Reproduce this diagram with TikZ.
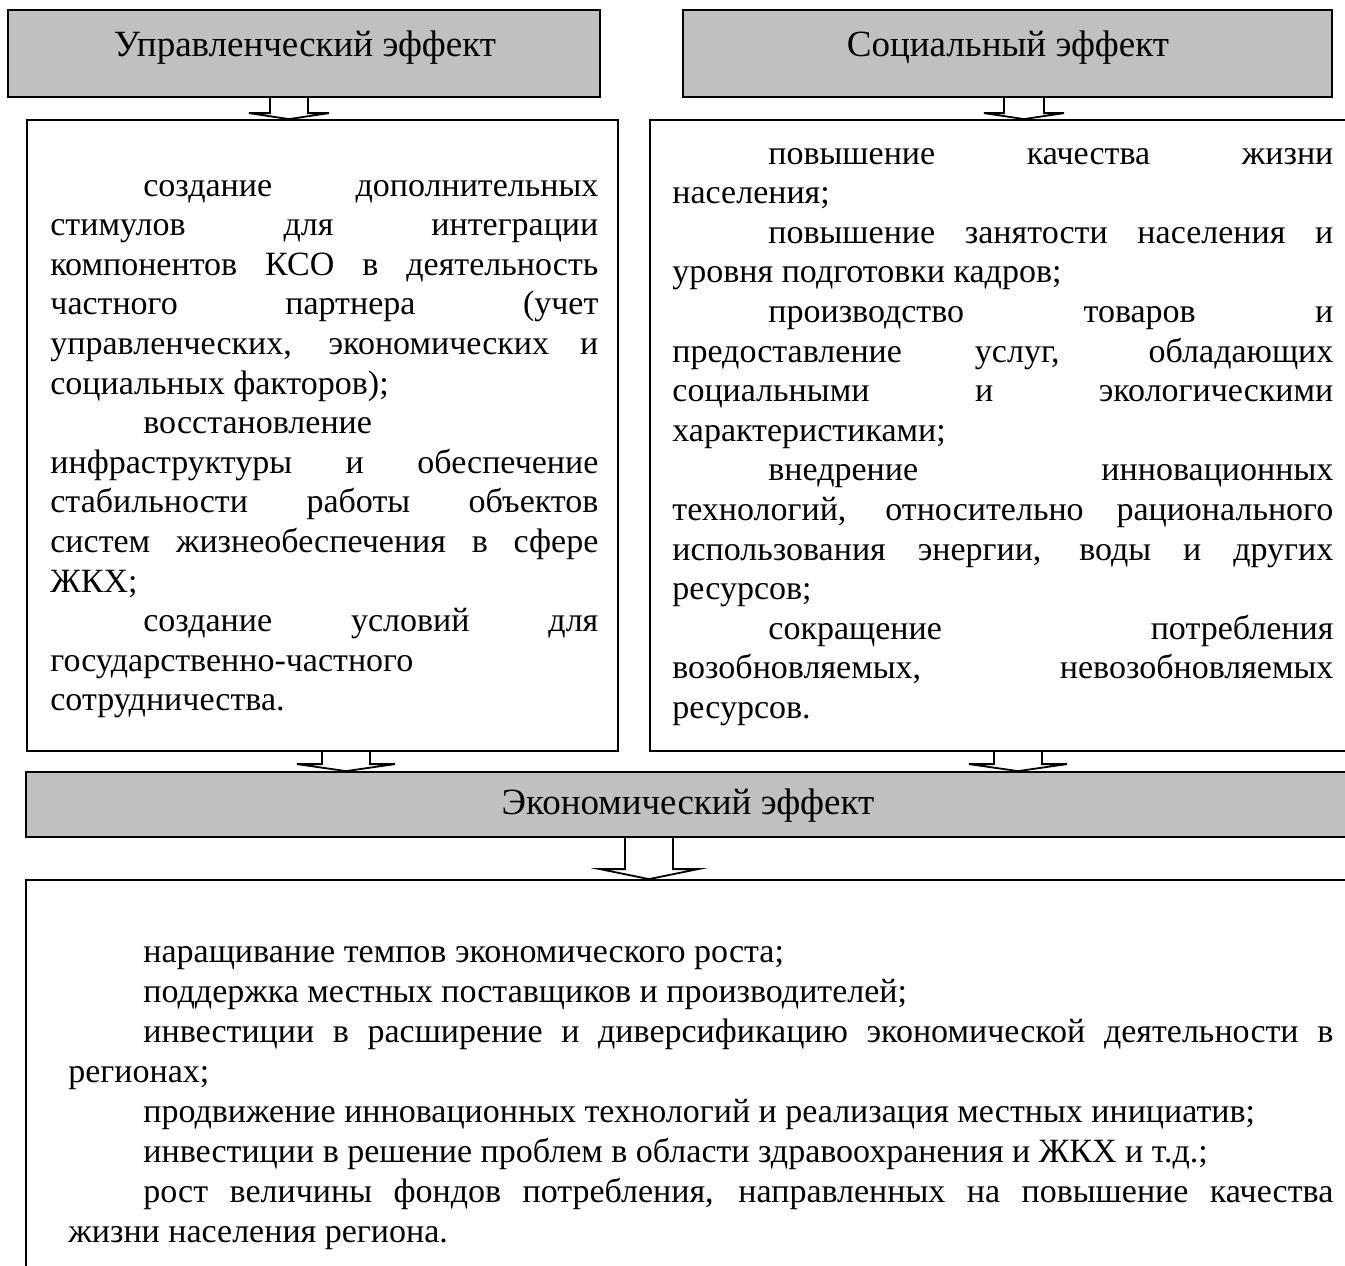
\documentclass[tikz,border=0pt]{standalone}
\usepackage{fontspec}
\setmainfont{Liberation Serif}
\usetikzlibrary{fit,calc,backgrounds}

\definecolor{boxgray}{HTML}{C0C0C0}

% one justified line, one left-set line, and the paragraph indent
\newcommand\JL[1]{\hbox to\hsize{#1}}
\newcommand\LL[1]{\hbox to\hsize{#1\hfil}}
\newcommand\IND[1]{\kern#1}

% block arrow from the bottom of one box to the top of another
% #1 source, #2 target, #3 axis x, #4 stem half width, #5 head half width, #6 head length
\newcommand\blockarrow[6]{%
  \path (#1.south -| #3,0) coordinate (#1-#2-s)
        (#2.north -| #3,0) coordinate (#1-#2-t);
  \draw[arrowshape]
    ($(#1-#2-s)+(-#4,0)$) -- ($(#1-#2-t)+(-#4,-#6)$) -- ($(#1-#2-t)+(-#5,-#6)$)
    -- (#1-#2-t) -- ($(#1-#2-t)+(#5,-#6)$) -- ($(#1-#2-t)+(#4,-#6)$)
    -- ($(#1-#2-s)+(#4,0)$);
}

\begin{document}
\begin{tikzpicture}[x=0.5pt,y=-0.5pt,
  every node/.style={font=\fontsize{17}{19.8}\selectfont},
  graybox/.style={draw=black, fill=boxgray, line width=0.9pt, inner sep=0pt},
  textbox/.style={draw=black, fill=white, line width=0.9pt, inner sep=0pt},
  title/.style={inner sep=0pt, font=\fontsize{18.5}{22}\selectfont},
  arrowshape/.style={draw=black, fill=white, line width=0.9pt, line join=miter},
  bodytext/.style={anchor=base west, inner sep=0pt}]

\useasboundingbox (0,0) rectangle (1345,1265);
\clip (0,0) rectangle (1345,1265);

% headline boxes
\node[graybox, fit={(8,10) (600,97)}] (mgmt) {};
\node[title] (mgmttitle) at (305,48) {Управленческий эффект};
\node[graybox, fit={(683,10) (1332,97)}] (soc) {};
\node[title] (soctitle) at (1008,48) {Социальный эффект};

% lists of effects
\node[textbox, fit={(27,120) (618,751)}] (mgmtlist) {};
\node[textbox, fit={(650,120) (1400,751)}] (soclist) {};

% economic effect
\node[graybox, fit={(26,772) (1355,837)}] (econ) {};
\node[title] (econtitle) at (688,806) {Экономический эффект};
\node[textbox, fit={(26,880) (1400,1320)}] (econlist) {};

\node[bodytext] (mgmttext) at (50,196) {\vtop{\hsize=274pt
  \JL{\IND{46.5pt}создание дополнительных}
  \JL{стимулов для интеграции}
  \JL{компонентов КСО в деятельность}
  \JL{частного партнера (учет}
  \JL{управленческих, экономических и}
  \LL{социальных факторов);}
  \LL{\IND{46.5pt}восстановление}
  \JL{инфраструктуры и обеспечение}
  \JL{стабильности работы объектов}
  \JL{систем жизнеобеспечения в сфере}
  \LL{ЖКХ;}
  \JL{\IND{46.5pt}создание условий для}
  \LL{государственно-частного}
  \LL{сотрудничества.}}};

\node[bodytext] (soctext) at (672,164) {\vtop{\hsize=330.5pt
  \JL{\IND{48pt}повышение качества жизни}
  \LL{населения;}
  \JL{\IND{48pt}повышение занятости населения и}
  \LL{уровня подготовки кадров;}
  \JL{\IND{48pt}производство товаров и}
  \JL{предоставление услуг, обладающих}
  \JL{социальными и экологическими}
  \LL{характеристиками;}
  \JL{\IND{48pt}внедрение инновационных}
  \JL{технологий, относительно рационального}
  \JL{использования энергии, воды и других}
  \LL{ресурсов;}
  \JL{\IND{48pt}сокращение потребления}
  \JL{возобновляемых, невозобновляемых}
  \LL{ресурсов.}}};

\node[bodytext] (econtext) at (68,962) {\vtop{\hsize=632.5pt \baselineskip=20pt
  \LL{\IND{37.5pt}наращивание темпов экономического роста;}
  \LL{\IND{37.5pt}поддержка местных поставщиков и производителей;}
  \JL{\IND{37.5pt}инвестиции в расширение и диверсификацию экономической деятельности в}
  \LL{регионах;}
  \LL{\IND{37.5pt}продвижение инновационных технологий и реализация местных инициатив;}
  \LL{\IND{37.5pt}инвестиции в решение проблем в области здравоохранения и ЖКХ и т.д.;}
  \JL{\IND{37.5pt}рост величины фондов потребления, направленных на повышение качества}
  \LL{жизни населения региона.}}};

% connectors, kept under the boxes
\begin{scope}[on background layer]
  \blockarrow{mgmt}{mgmtlist}{289}{19}{40}{6}
  \blockarrow{soc}{soclist}{1024}{20}{40}{6}
  \blockarrow{mgmtlist}{econ}{346}{24}{49}{7}
  \blockarrow{soclist}{econ}{1018}{24}{49}{7}
  \blockarrow{econ}{econlist}{649}{24}{49}{10}
\end{scope}
\end{tikzpicture}
\end{document}
